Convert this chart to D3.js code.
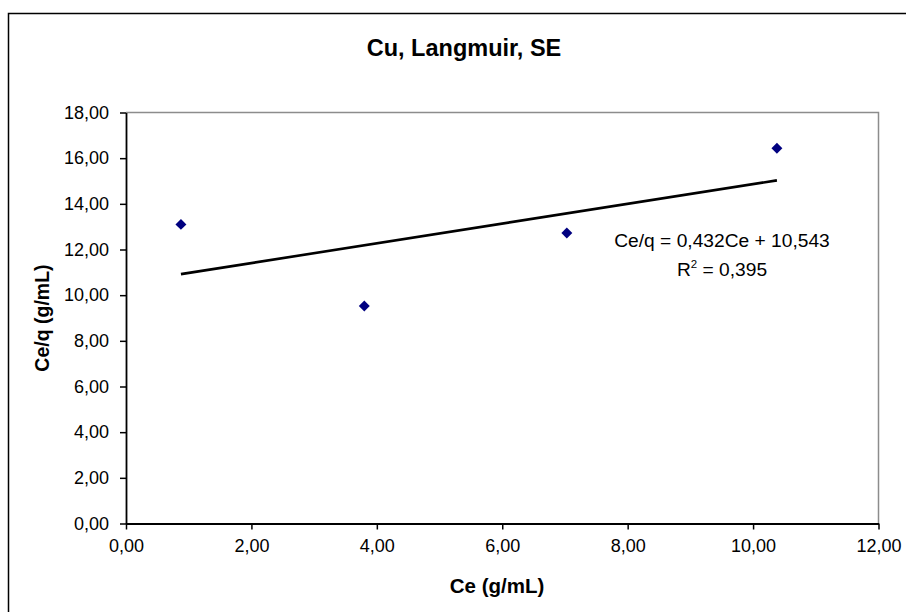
<!DOCTYPE html>
<html>
<head>
<meta charset="utf-8">
<script src="https://cdn.jsdelivr.net/npm/d3@7"></script>
<style>
  html, body { margin: 0; padding: 0; background: #fff; }
  svg { display: block; font-family: "Liberation Sans", Arial, sans-serif; }
</style>
</head>
<body>
<svg id="chart" width="906" height="612"></svg>
<script>
// ---- data ----
const ceValues = [0.876, 3.80, 7.03, 10.38];
const ceqValues = [13.10, 9.53, 12.72, 16.43];
const trendSlope = 0.432;
const trendIntercept = 10.543;
const rSquared = 0.395;
const xTicks = [0, 2, 4, 6, 8, 10, 12];
const yTicks = [0, 2, 4, 6, 8, 10, 12, 14, 16, 18];
const titleText = "Cu, Langmuir, SE";
const xLabel = "Ce (g/mL)";
const yLabel = "Ce/q (g/mL)";

const locale = d3.formatLocale({decimal: ",", thousands: ".", grouping: [3], currency: ["", ""]});
const fmt2 = locale.format(".2f");
const fmt3 = locale.format(".3f");

const svg = d3.select("#chart");
const plot = {left: 126, right: 878.5, top: 112.5, bottom: 523.5};

const x = d3.scaleLinear().domain([0, 12]).range([plot.left, plot.right]);
const y = d3.scaleLinear().domain([0, 18]).range([plot.bottom, plot.top]);

// outer chart border (extends beyond viewport)
svg.append("rect")
  .attr("x", 8.5).attr("y", 13.5).attr("width", 1000).attr("height", 1000)
  .attr("fill", "none").attr("stroke", "#000").attr("stroke-width", 1.5);

// plot area top / right border (gray)
svg.append("path")
  .attr("d", `M${x(0)},${y(18)}H${x(12)}V${y(0)}`)
  .attr("fill", "none").attr("stroke", "#8c8c8c").attr("stroke-width", 1.5);

// title
svg.append("text")
  .attr("x", 464).attr("y", 56)
  .attr("text-anchor", "middle")
  .attr("font-size", 23.5).attr("font-weight", "bold")
  .text(titleText);

// axes
const xAxis = d3.axisBottom(x).tickValues(xTicks).tickFormat(fmt2).tickSizeInner(6).tickSizeOuter(0).tickPadding(10);
const yAxis = d3.axisLeft(y).tickValues(yTicks).tickFormat(fmt2).tickSizeInner(6).tickSizeOuter(0).tickPadding(11);

const gx = svg.append("g").attr("transform", `translate(0,${plot.bottom})`).call(xAxis);
const gy = svg.append("g").attr("transform", `translate(${plot.left},0)`).call(yAxis);

[gx, gy].forEach(g => {
  g.select(".domain").attr("stroke", "#000").attr("stroke-width", 1.8);
  g.selectAll(".tick line").attr("stroke", "#000").attr("stroke-width", 1.5);
  g.selectAll(".tick text").attr("fill", "#000").attr("font-size", 18)
    .attr("font-family", "'Liberation Sans', Arial, sans-serif");
});

// axis labels
svg.append("text")
  .attr("x", 497).attr("y", 593)
  .attr("text-anchor", "middle")
  .attr("font-size", 20.5).attr("font-weight", "bold")
  .text(xLabel);

svg.append("text")
  .attr("transform", `translate(49,${(plot.top + plot.bottom) / 2}) rotate(-90)`)
  .attr("text-anchor", "middle")
  .attr("font-size", 19.5).attr("font-weight", "bold")
  .text(yLabel);

// trendline
const xMin = d3.min(ceValues), xMax = d3.max(ceValues);
svg.append("line")
  .attr("x1", x(xMin)).attr("y1", y(trendSlope * xMin + trendIntercept))
  .attr("x2", x(xMax)).attr("y2", y(trendSlope * xMax + trendIntercept))
  .attr("stroke", "#000").attr("stroke-width", 2.6);

// points (diamonds)
const diamond = d3.symbol().type(d3.symbolSquare).size(60);
svg.append("g").selectAll("path")
  .data(ceValues.map((v, i) => [v, ceqValues[i]]))
  .join("path")
  .attr("d", diamond)
  .attr("transform", d => `translate(${x(d[0])},${y(d[1])}) rotate(45)`)
  .attr("fill", "#000080");

// equation text
svg.append("text")
  .attr("x", 722).attr("y", 247)
  .attr("text-anchor", "middle")
  .attr("font-size", 19.2)
  .text(`Ce/q = ${fmt3(trendSlope)}Ce + ${fmt3(trendIntercept)}`);

const r2 = svg.append("text")
  .attr("x", 722).attr("y", 276)
  .attr("text-anchor", "middle")
  .attr("font-size", 19.2);
r2.append("tspan").text("R");
r2.append("tspan").attr("font-size", 11.5).attr("dy", -8).text("2");
r2.append("tspan").attr("dy", 8).text(` = ${fmt3(rSquared)}`);
</script>
</body>
</html>
